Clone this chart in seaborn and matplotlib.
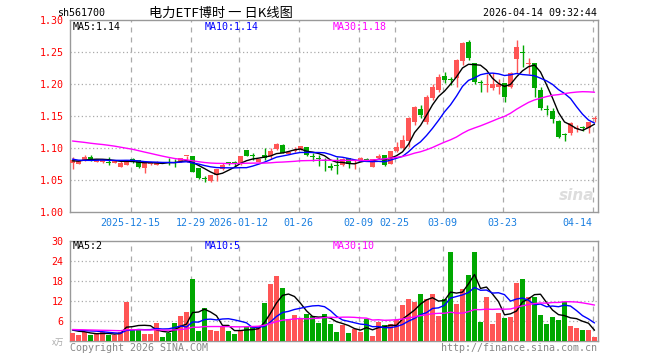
import numpy as np
import pandas as pd
import matplotlib
matplotlib.use("Agg")
import matplotlib.pyplot as plt
import seaborn as sns

# ---------------- data ----------------
tick_labels = ["2025-12-15", "12-29", "2026-01-12", "01-26", "02-09",
               "02-25", "03-09", "03-23", "04-14"]
tick_index = [10, 20, 28, 38, 48, 54, 62, 72, 87]

open_ = [1.0766, 1.0755, 1.0810, 1.0862, 1.0785, 1.0775, 1.0775, 1.0770, 1.0710, 1.0735,
         1.0815, 1.0812, 1.0682, 1.0745, 1.0740, 1.0775, 1.0775, 1.0775, 1.0790, 1.0870,
         1.0875, 1.0685, 1.0525, 1.0484, 1.0575, 1.0670, 1.0768, 1.0765, 1.0750, 1.0965,
         1.0875, 1.0780, 1.0896, 1.0870, 1.0990, 1.1050, 1.0910, 1.0950, 1.0974, 1.1010,
         1.0860, 1.0835, 1.0805, 1.0705, 1.0725, 1.0729, 1.0838, 1.0752, 1.0810, 1.0830,
         1.0708, 1.0840, 1.0890, 1.0750, 1.0948, 1.0995, 1.1114, 1.1411, 1.1604, 1.1400,
         1.1780, 1.1900, 1.2125, 1.2070, 1.2100, 1.2365, 1.2662, 1.2323, 1.2015, 1.1990,
         1.1930, 1.1960, 1.2010, 1.1958, 1.2385, 1.2485, 1.2310, 1.2323, 1.1906, 1.1595,
         1.1580, 1.1422, 1.1205, 1.1240, 1.1300, 1.1310, 1.1307, 1.1460]
high = [1.0860, 1.0815, 1.0885, 1.0890, 1.0830, 1.0825, 1.0865, 1.0810, 1.0820, 1.0820,
        1.0850, 1.0815, 1.0765, 1.0775, 1.0800, 1.0780, 1.0850, 1.0823, 1.0845, 1.0878,
        1.0878, 1.0690, 1.0560, 1.0580, 1.0670, 1.0765, 1.0775, 1.0790, 1.0875, 1.0970,
        1.0920, 1.0835, 1.0995, 1.0995, 1.1080, 1.1060, 1.0960, 1.1010, 1.1030, 1.1015,
        1.0922, 1.0896, 1.0844, 1.0760, 1.0860, 1.0840, 1.0845, 1.0810, 1.0860, 1.0840,
        1.0825, 1.0910, 1.0895, 1.0960, 1.1100, 1.1200, 1.1490, 1.1660, 1.1670, 1.1830,
        1.2000, 1.2150, 1.2193, 1.2115, 1.2390, 1.2660, 1.2690, 1.2330, 1.2060, 1.2150,
        1.2167, 1.2080, 1.2020, 1.2180, 1.2680, 1.2610, 1.2400, 1.2330, 1.1950, 1.1670,
        1.1620, 1.1430, 1.1240, 1.1410, 1.1360, 1.1350, 1.1410, 1.1500]
low = [1.0667, 1.0745, 1.0797, 1.0800, 1.0775, 1.0770, 1.0734, 1.0765, 1.0700, 1.0730,
       1.0770, 1.0682, 1.0615, 1.0740, 1.0735, 1.0760, 1.0740, 1.0708, 1.0785, 1.0786,
       1.0625, 1.0515, 1.0475, 1.0470, 1.0490, 1.0660, 1.0740, 1.0715, 1.0740, 1.0870,
       1.0815, 1.0775, 1.0820, 1.0835, 1.0975, 1.0920, 1.0900, 1.0945, 1.0970, 1.0880,
       1.0790, 1.0712, 1.0640, 1.0650, 1.0600, 1.0720, 1.0690, 1.0665, 1.0790, 1.0800,
       1.0700, 1.0830, 1.0720, 1.0745, 1.0940, 1.0990, 1.1020, 1.1360, 1.1470, 1.1380,
       1.1750, 1.1880, 1.2010, 1.1990, 1.1960, 1.2300, 1.2380, 1.2000, 1.1880, 1.1880,
       1.1906, 1.1850, 1.1720, 1.1930, 1.2170, 1.2270, 1.2160, 1.1800, 1.1590, 1.1515,
       1.1396, 1.1150, 1.1114, 1.1200, 1.1255, 1.1270, 1.1240, 1.1400]
close = [1.0818, 1.0800, 1.0865, 1.0820, 1.0822, 1.0812, 1.0770, 1.0800, 1.0760, 1.0812,
         1.0810, 1.0708, 1.0760, 1.0768, 1.0786, 1.0770, 1.0770, 1.0768, 1.0839, 1.0875,
         1.0630, 1.0530, 1.0520, 1.0575, 1.0665, 1.0740, 1.0760, 1.0760, 1.0872, 1.0875,
         1.0870, 1.0830, 1.0844, 1.0958, 1.1060, 1.0922, 1.0940, 1.0975, 1.1026, 1.0885,
         1.0855, 1.0830, 1.0800, 1.0695, 1.0715, 1.0833, 1.0750, 1.0770, 1.0838, 1.0815,
         1.0823, 1.0875, 1.0730, 1.0958, 1.1010, 1.1125, 1.1464, 1.1646, 1.1516, 1.1800,
         1.1950, 1.2115, 1.2062, 1.2055, 1.2375, 1.2646, 1.2401, 1.2036, 1.2010, 1.2000,
         1.2000, 1.2000, 1.1800, 1.2167, 1.2583, 1.2479, 1.2323, 1.1932, 1.1620, 1.1590,
         1.1448, 1.1177, 1.1200, 1.1385, 1.1307, 1.1307, 1.1400, 1.1463]
volume = [2.2, 1.7, 2.7, 1.7, 2.2, 2.6, 1.7, 1.7, 2.6, 11.7,
          3.4, 3.4, 2.0, 2.0, 5.4, 1.2, 2.2, 5.4, 7.4, 8.7,
          18.5, 3.0, 9.7, 3.2, 3.0, 4.0, 3.0, 2.0, 3.2, 4.0,
          4.4, 4.4, 11.4, 17.0, 19.4, 15.8, 6.4, 7.7, 6.9, 8.0,
          7.4, 5.4, 8.0, 5.0, 2.7, 4.7, 2.4, 3.4, 2.7, 6.4,
          1.4, 5.7, 4.7, 5.0, 6.2, 10.7, 12.5, 11.5, 14.0, 12.5,
          14.0, 7.4, 12.4, 26.6, 11.0, 15.5, 19.7, 26.6, 5.6, 13.1,
          5.0, 8.3, 6.8, 7.1, 17.3, 18.5, 13.1, 13.1, 7.7, 5.0,
          7.1, 6.2, 11.6, 4.4, 3.8, 3.2, 3.2, 1.1]
# history before the first visible day (only feeds the moving averages)
prior_close = [1.112, 1.118, 1.121, 1.115, 1.109, 1.113, 1.120, 1.126, 1.131, 1.128,
               1.136, 1.142, 1.139, 1.144, 1.140, 1.135, 1.129, 1.123, 1.114, 1.106,
               1.096, 1.089, 1.083, 1.080, 1.078, 1.082, 1.079, 1.077, 1.080]
prior_volume = [3.1, 4.2, 2.8, 3.6, 3.9, 2.5, 3.3, 4.0, 3.2, 2.9,
                3.5, 3.8, 2.7, 3.4, 4.1, 3.0, 3.3, 3.6, 2.6, 3.9,
                3.2, 3.7, 3.0, 2.8, 4.4, 3.5, 3.4, 3.6, 3.3]

ma_price_labels = ["MA5:1.14", "MA10:1.14", "MA30:1.18"]
ma_vol_labels = ["MA5:2", "MA10:5", "MA30:10"]

# ---------------- derived ----------------
n = len(close)
idx = np.arange(n)
cs = pd.Series(prior_close + close)
vs = pd.Series(prior_volume + volume)
k = len(prior_close)
ma = {w: cs.rolling(w).mean().to_numpy()[k:] for w in (5, 10, 30)}
vma = {w: vs.rolling(w).mean().to_numpy()[k:] for w in (5, 10, 30)}
df = pd.DataFrame({"i": idx, "open": open_, "high": high, "low": low,
                   "close": close, "vol": volume,
                   "ma5": ma[5], "ma10": ma[10], "ma30": ma[30],
                   "vma5": vma[5], "vma10": vma[10], "vma30": vma[30]})
UP, DN = "#ff5555", "#00a800"
df["color"] = np.where(df["close"] >= df["open"], UP, DN)

# ---------------- figure ----------------
sns.set_theme(style="white")
plt.rcParams["font.family"] = ["DejaVu Sans Mono", "Noto Sans CJK SC"]
W, H = 660, 360
fig = plt.figure(figsize=(W / 100, H / 100), dpi=100)
fig.patch.set_facecolor("white")

def fx(x):
    return x / W

def fy(y):
    return 1 - y / H

XL, XR = 70, 598
xlim = ((XL - 72.5) / 6, (XR - 72.5) / 6)
ax = fig.add_axes([fx(XL), fy(212), (XR - XL) / W, 192 / H])
axv = fig.add_axes([fx(XL), fy(340.7), (XR - XL) / W, 100 / H])

GRID = "#aaaaaa"
FS = 7.2
tick_pos = [t - 0.3 for t in tick_index]

for a in (ax, axv):
    a.set_facecolor("white")
    a.set_xlim(*xlim)
    for s in a.spines.values():
        s.set_color("#999999")
        s.set_linewidth(1)
    for t in tick_pos:
        a.axvline(t, color=GRID, lw=0.9, ls=(0, (4, 4)), zorder=0)

# main panel
ax.set_ylim(1.0, 1.3)
for lv in [1.05, 1.10, 1.15, 1.20, 1.25]:
    ax.axhline(lv, color=GRID, lw=0.9, ls=(0, (1, 2)), zorder=0)
ax.vlines(df["i"], df["low"], df["high"], colors=df["color"], lw=1, zorder=2)
body = np.maximum((df["close"] - df["open"]).abs(), 0.0016)
ax.bar(df["i"], body, bottom=np.minimum(df["open"], df["close"]), width=0.72,
       color=df["color"], linewidth=0, zorder=3)
for col, c in [("ma5", "black"), ("ma10", "#0000ff"), ("ma30", "#ff00ff")]:
    sns.lineplot(data=df, x="i", y=col, ax=ax, color=c, lw=1, legend=False, zorder=4)
ax.set_yticks([1.00, 1.05, 1.10, 1.15, 1.20, 1.25, 1.30])
ax.set_yticklabels(["1.00", "1.05", "1.10", "1.15", "1.20", "1.25", "1.30"])
ax.set_xticks(tick_pos)
ax.set_xticklabels(tick_labels)
ax.tick_params(axis="y", length=0, pad=4.5, labelcolor="#ff0000", labelsize=FS)
ax.tick_params(axis="x", length=0, pad=4.0, labelcolor="#1a7fe0", labelsize=FS)
last = ax.get_xticklabels()[-1]
last.set_horizontalalignment("right")
ax.set_xlabel("")
ax.set_ylabel("")

# volume panel
axv.set_ylim(0, 30)
for lv in [6, 12, 18, 24]:
    axv.axhline(lv, color=GRID, lw=0.9, ls=(0, (1, 2)), zorder=0)
axv.bar(df["i"], df["vol"], width=0.8, color=df["color"], linewidth=0, zorder=3)
for col, c in [("vma5", "black"), ("vma10", "#0000ff"), ("vma30", "#ff00ff")]:
    sns.lineplot(data=df, x="i", y=col, ax=axv, color=c, lw=1, legend=False, zorder=4)
axv.set_yticks([6, 12, 18, 24, 30])
axv.set_yticklabels(["6", "12", "18", "24", "30"])
axv.set_xticks([])
axv.tick_params(axis="y", length=0, pad=4.5, labelcolor="#ff0000", labelsize=FS)
axv.set_xlabel("")
axv.set_ylabel("")

# texts
fig.text(fx(57), fy(13), "sh561700", fontsize=FS, color="black", va="center")
fig.text(fx(149), fy(13), "电力ETF博时 一 日K线图", fontsize=9.5, color="black", va="center",
         family=["Noto Sans CJK SC", "DejaVu Sans"])
fig.text(fx(597), fy(13), "2026-04-14 09:32:44", fontsize=FS, color="black", va="center", ha="right")
for txt, x, c in zip(ma_price_labels, [73, 205, 333], ["black", "#0000ff", "#ff00ff"]):
    fig.text(fx(x), fy(27), txt, fontsize=FS, color=c, va="center")
for txt, x, c in zip(ma_vol_labels, [73, 205, 333], ["black", "#0000ff", "#ff00ff"]):
    fig.text(fx(x), fy(246), txt, fontsize=FS, color=c, va="center")
fig.text(fx(64), fy(342), "x万", fontsize=6, color="#aaaaaa", va="center", ha="right",
         family=["Noto Sans CJK SC", "DejaVu Sans"])
fig.text(fx(70), fy(348), "Copyright 2026 SINA.COM", fontsize=FS, color="#888888", va="center")
fig.text(fx(597), fy(348), "http://finance.sina.com.cn", fontsize=FS, color="#888888",
         va="center", ha="right")
fig.text(fx(594), fy(196), "sina", fontsize=11, color="#dddddd", va="center", ha="right",
         style="italic", weight="bold", family="DejaVu Sans")

fig.savefig("out.png", dpi=100)
